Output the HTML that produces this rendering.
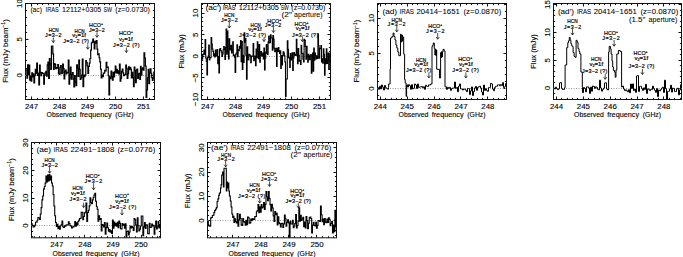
<!DOCTYPE html>
<html><head><meta charset="utf-8"><style>
html,body{margin:0;padding:0;background:#fff;}
svg{display:block;}
text{font-family:"Liberation Sans",sans-serif;fill:#000;stroke:#000;stroke-width:0.12px;}
text.t{stroke-width:0.05px;}
text.l{stroke-width:0.2px;}
</style></head><body>
<svg width="683" height="257" viewBox="0 0 683 257">
<rect x="25.5" y="3.5" width="129" height="96" fill="none" stroke="#111" stroke-width="1"/>
<text x="31.5" y="108.8" font-size="7.9" text-anchor="middle">247</text>
<text x="59.5" y="108.8" font-size="7.9" text-anchor="middle">248</text>
<text x="87.5" y="108.8" font-size="7.9" text-anchor="middle">249</text>
<text x="115.5" y="108.8" font-size="7.9" text-anchor="middle">250</text>
<text x="143.5" y="108.8" font-size="7.9" text-anchor="middle">251</text>
<text x="21.6" y="75.2" font-size="7.9" text-anchor="middle" transform="rotate(-90 21.6 75.2)" dominant-baseline="auto">0</text>
<text x="21.6" y="39.35" font-size="7.9" text-anchor="middle" transform="rotate(-90 21.6 39.35)" dominant-baseline="auto">5</text>
<text x="21.6" y="3.5" font-size="7.9" text-anchor="middle" transform="rotate(-90 21.6 3.5)" dominant-baseline="auto">10</text>
<path d="M25.5 99.5v-1.6M25.5 3.5v1.6M31.5 99.5v-3M31.5 3.5v3M37.5 99.5v-1.6M37.5 3.5v1.6M42.5 99.5v-1.6M42.5 3.5v1.6M48.5 99.5v-1.6M48.5 3.5v1.6M53.5 99.5v-1.6M53.5 3.5v1.6M59.5 99.5v-3M59.5 3.5v3M65.5 99.5v-1.6M65.5 3.5v1.6M70.5 99.5v-1.6M70.5 3.5v1.6M76.5 99.5v-1.6M76.5 3.5v1.6M81.5 99.5v-1.6M81.5 3.5v1.6M87.5 99.5v-3M87.5 3.5v3M93.5 99.5v-1.6M93.5 3.5v1.6M98.5 99.5v-1.6M98.5 3.5v1.6M104.5 99.5v-1.6M104.5 3.5v1.6M109.5 99.5v-1.6M109.5 3.5v1.6M115.5 99.5v-3M115.5 3.5v3M121.5 99.5v-1.6M121.5 3.5v1.6M126.5 99.5v-1.6M126.5 3.5v1.6M132.5 99.5v-1.6M132.5 3.5v1.6M137.5 99.5v-1.6M137.5 3.5v1.6M143.5 99.5v-3M143.5 3.5v3M149.5 99.5v-1.6M149.5 3.5v1.6M25.5 96.5h1.6M154.5 96.5h-1.6M25.5 89.5h1.6M154.5 89.5h-1.6M25.5 82.5h1.6M154.5 82.5h-1.6M25.5 75.5h3M154.5 75.5h-3M25.5 68.5h1.6M154.5 68.5h-1.6M25.5 60.5h1.6M154.5 60.5h-1.6M25.5 53.5h1.6M154.5 53.5h-1.6M25.5 46.5h1.6M154.5 46.5h-1.6M25.5 39.5h3M154.5 39.5h-3M25.5 32.5h1.6M154.5 32.5h-1.6M25.5 25.5h1.6M154.5 25.5h-1.6M25.5 17.5h1.6M154.5 17.5h-1.6M25.5 10.5h1.6M154.5 10.5h-1.6" stroke="#111" stroke-width="1" fill="none"/>
<path d="M25.5 75.5H154.5" stroke="#999" stroke-width="1" stroke-dasharray="1 1.5" fill="none"/>
<text x="46.6" y="116.8" font-size="6.9" text-anchor="start" textLength="29.7" lengthAdjust="spacingAndGlyphs">Observed</text>
<text x="79.7" y="116.8" font-size="6.9" text-anchor="start" textLength="31.9" lengthAdjust="spacingAndGlyphs">frequency</text>
<text x="115.3" y="116.8" font-size="6.9" text-anchor="start" textLength="18.2" lengthAdjust="spacingAndGlyphs">(GHz)</text>
<text x="7.8" y="51" font-size="7.3" text-anchor="middle" textLength="63.5" lengthAdjust="spacingAndGlyphs" transform="rotate(-90 7.8 51)">Flux (mJy beam<tspan dy="-2.6" font-size="4.8">−1</tspan><tspan dy="2.6">)</tspan></text>
<text x="30.4" y="11.7" font-size="6.5" text-anchor="start" textLength="11.5" lengthAdjust="spacingAndGlyphs" class="t">(ac)</text>
<text x="45.6" y="11.7" font-size="6.5" text-anchor="start" textLength="13.2" lengthAdjust="spacingAndGlyphs" class="t">IRAS</text>
<text x="62.1" y="11.7" font-size="6.5" text-anchor="start" textLength="39.2" lengthAdjust="spacingAndGlyphs" class="t">12112+0305</text>
<text x="103.4" y="11.7" font-size="6.5" text-anchor="start" textLength="8.5" lengthAdjust="spacingAndGlyphs" class="t">SW</text>
<text x="115.3" y="11.7" font-size="6.5" text-anchor="start" textLength="34.5" lengthAdjust="spacingAndGlyphs" class="t">(z=0.0730)</text>
<path d="M25.5 69.89H26.2V70.02H26.9V78.19H27.6V64.85H28.3V74.52H29.01V65H29.71V80.1H30.41V76.06H31.11V81.24H31.81V72.86H32.51V76.91H33.21V73.83H33.91V83H34.61V75.75H35.32V69.44H36.02V73.49H36.72V63H37.42V75.33H38.12V73.22H38.82V84.91H39.52V65H40.22V72.4H40.92V75.76H41.63V72.68H42.33V73.29H43.03V73.44H43.73V84.12H44.43V75.1H45.13V72.95H45.83V71.28H46.53V76.08H47.23V64.88H47.93V62H48.64V78.37H49.34V58.7H50.04V64.16H50.74V69.33H51.44V46H52.14V46H52.84V53.89H53.54V69.44H54.24V63.62H54.95V64.39H55.65V68.73H56.35V67.65H57.05V68.08H57.75V64.57H58.45V73.28H59.15V74.45H59.85V67.42H60.55V65.56H61.26V73.56H61.96V72.99H62.66V64H63.36V68.65H64.06V78.89H64.76V71.56H65.46V70.16H66.16V73.8H66.86V72.32H67.57V72.64H68.27V60.22H68.97V84.26H69.67V74.29H70.37V67.16H71.07V79.08H71.77V74.58H72.47V72.55H73.17V79.11H73.87V86.85H74.58V75.61H75.28V82.18H75.98V85.76H76.68V64.96H77.38V68.05H78.08V76.36H78.78V60.07H79.48V69.3H80.18V79.48H80.89V77.96H81.59V75.04H82.29V59.06H82.99V86.76H83.69V75.16H84.39V76.66H85.09V74.99H85.79V60.72H86.49V62.65H87.2V65.99H87.9V73.34H88.6V66.44H89.3V63.19H90V58.49H90.7V50.18H91.4V42.83H92.1V42.04H92.8V38.98H93.51V42.22H94.21V48.83H94.91V41.24H95.61V43.16H96.31V40.49H97.01V49.08H97.71V54.63H98.41V53.82H99.11V57.77H99.82V61.92H100.52V69.05H101.22V78.02H101.92V75.06H102.62V76.6H103.32V73.02H104.02V73.21H104.72V70.32H105.42V71.02H106.12V62.45H106.83V67.39H107.53V67.07H108.23V75.6H108.93V94.9H109.63V76.87H110.33V78.55H111.03V71.13H111.73V76.6H112.43V80.23H113.14V72.4H113.84V76.81H114.54V71.83H115.24V66.06H115.94V73.02H116.64V69.28H117.34V73.03H118.04V70.77H118.74V73.92H119.45V64.12H120.15V81.03H120.85V78.16H121.55V71.35H122.25V69.14H122.95V72.82H123.65V75.53H124.35V74.55H125.05V74.49H125.76V65.03H126.46V68.41H127.16V78.34H127.86V73.95H128.56V66.93H129.26V69.57H129.96V67.28H130.66V69.01H131.36V77.85H132.07V72.26H132.77V77.7H133.47V86.7H134.17V67.14H134.87V70.63H135.57V82.57H136.27V70.2H136.97V69.07H137.67V78.38H138.38V73.75H139.08V73.39H139.78V79.41H140.48V66.3H141.18V75.19H141.88V69.22H142.58V67.83H143.28V70.25H143.98V52.8H144.68V58H145.39V66.16H146.09V97.3H146.79V90H147.49V77.91H148.19V69.3H148.89V83.69H149.59V72.31H150.29V68.96H150.99V73.3H151.7V77.72H152.4V80.5H153.1V78.15H153.8V72.22H154.5" stroke="#000" stroke-width="1.2" fill="none" stroke-linejoin="miter"/>
<text x="53.7" y="31.7" font-size="5.4" text-anchor="middle" textLength="10.1" lengthAdjust="spacingAndGlyphs" class="l">HCN</text>
<text x="53.3" y="37" font-size="5.4" text-anchor="middle" textLength="16.4" lengthAdjust="spacing" class="l">J=3−2</text>
<path d="M53.3 37.5V42.5M51.7 40.3L53.3 42.5L54.9 40.3" stroke="#000" stroke-width="0.7" fill="none"/>
<text x="79.6" y="32.5" font-size="5.4" text-anchor="middle" textLength="10" lengthAdjust="spacingAndGlyphs" class="l">HCN</text>
<text x="79.1" y="37.2" font-size="5.4" text-anchor="middle" textLength="13.6" lengthAdjust="spacingAndGlyphs" class="l">v<tspan font-size='3.4' dy='1.2'>2</tspan><tspan dy='-1.2'>=1f</tspan></text>
<text x="63.3" y="43.3" font-size="5.4" text-anchor="start" textLength="25.6" lengthAdjust="spacing" class="l">J=3−2 (?)</text>
<path d="M87.8 44.3V49.2M86.2 47L87.8 49.2L89.4 47" stroke="#000" stroke-width="0.7" fill="none"/>
<text x="96" y="27.3" font-size="5.4" text-anchor="middle" class="l">HCO<tspan font-size='3.4' dy='-2.1'>+</tspan></text>
<text x="96.8" y="32" font-size="5.4" text-anchor="middle" textLength="15.8" lengthAdjust="spacing" class="l">J=3−2</text>
<path d="M97 32.3V37.3M95.4 35.1L97 37.3L98.6 35.1" stroke="#000" stroke-width="0.7" fill="none"/>
<text x="125.9" y="35.4" font-size="5.4" text-anchor="middle" class="l">HCO<tspan font-size='3.4' dy='-2.1'>+</tspan></text>
<text x="125.9" y="41" font-size="5.4" text-anchor="middle" textLength="13.6" lengthAdjust="spacingAndGlyphs" class="l">v<tspan font-size='3.4' dy='1.2'>2</tspan><tspan dy='-1.2'>=1f</tspan></text>
<text x="113" y="47.1" font-size="5.4" text-anchor="start" textLength="26.6" lengthAdjust="spacing" class="l">J=3−2 (?)</text>
<path d="M126.4 47.5V52.5M124.8 50.3L126.4 52.5L128 50.3" stroke="#000" stroke-width="0.7" fill="none"/>
<rect x="201.5" y="3.5" width="129" height="96" fill="none" stroke="#111" stroke-width="1"/>
<text x="207.5" y="108.8" font-size="7.9" text-anchor="middle">247</text>
<text x="235.5" y="108.8" font-size="7.9" text-anchor="middle">248</text>
<text x="263.5" y="108.8" font-size="7.9" text-anchor="middle">249</text>
<text x="291.5" y="108.8" font-size="7.9" text-anchor="middle">250</text>
<text x="319.5" y="108.8" font-size="7.9" text-anchor="middle">251</text>
<text x="197.6" y="99.5" font-size="7.9" text-anchor="middle" transform="rotate(-90 197.6 99.5)" dominant-baseline="auto">−10</text>
<text x="197.6" y="77.9" font-size="7.9" text-anchor="middle" transform="rotate(-90 197.6 77.9)" dominant-baseline="auto">−5</text>
<text x="197.6" y="56.3" font-size="7.9" text-anchor="middle" transform="rotate(-90 197.6 56.3)" dominant-baseline="auto">0</text>
<text x="197.6" y="34.7" font-size="7.9" text-anchor="middle" transform="rotate(-90 197.6 34.7)" dominant-baseline="auto">5</text>
<text x="197.6" y="13.1" font-size="7.9" text-anchor="middle" transform="rotate(-90 197.6 13.1)" dominant-baseline="auto">10</text>
<path d="M201.5 99.5v-1.6M201.5 3.5v1.6M207.5 99.5v-3M207.5 3.5v3M213.5 99.5v-1.6M213.5 3.5v1.6M218.5 99.5v-1.6M218.5 3.5v1.6M224.5 99.5v-1.6M224.5 3.5v1.6M229.5 99.5v-1.6M229.5 3.5v1.6M235.5 99.5v-3M235.5 3.5v3M241.5 99.5v-1.6M241.5 3.5v1.6M246.5 99.5v-1.6M246.5 3.5v1.6M252.5 99.5v-1.6M252.5 3.5v1.6M257.5 99.5v-1.6M257.5 3.5v1.6M263.5 99.5v-3M263.5 3.5v3M269.5 99.5v-1.6M269.5 3.5v1.6M274.5 99.5v-1.6M274.5 3.5v1.6M280.5 99.5v-1.6M280.5 3.5v1.6M285.5 99.5v-1.6M285.5 3.5v1.6M291.5 99.5v-3M291.5 3.5v3M297.5 99.5v-1.6M297.5 3.5v1.6M302.5 99.5v-1.6M302.5 3.5v1.6M308.5 99.5v-1.6M308.5 3.5v1.6M313.5 99.5v-1.6M313.5 3.5v1.6M319.5 99.5v-3M319.5 3.5v3M325.5 99.5v-1.6M325.5 3.5v1.6M201.5 95.5h1.6M330.5 95.5h-1.6M201.5 90.5h1.6M330.5 90.5h-1.6M201.5 86.5h1.6M330.5 86.5h-1.6M201.5 82.5h1.6M330.5 82.5h-1.6M201.5 77.5h3M330.5 77.5h-3M201.5 73.5h1.6M330.5 73.5h-1.6M201.5 69.5h1.6M330.5 69.5h-1.6M201.5 64.5h1.6M330.5 64.5h-1.6M201.5 60.5h1.6M330.5 60.5h-1.6M201.5 56.5h3M330.5 56.5h-3M201.5 51.5h1.6M330.5 51.5h-1.6M201.5 47.5h1.6M330.5 47.5h-1.6M201.5 43.5h1.6M330.5 43.5h-1.6M201.5 39.5h1.6M330.5 39.5h-1.6M201.5 34.5h3M330.5 34.5h-3M201.5 30.5h1.6M330.5 30.5h-1.6M201.5 26.5h1.6M330.5 26.5h-1.6M201.5 21.5h1.6M330.5 21.5h-1.6M201.5 17.5h1.6M330.5 17.5h-1.6M201.5 13.5h3M330.5 13.5h-3M201.5 8.5h1.6M330.5 8.5h-1.6M201.5 4.5h1.6M330.5 4.5h-1.6" stroke="#111" stroke-width="1" fill="none"/>
<path d="M201.5 56.5H330.5" stroke="#999" stroke-width="1" stroke-dasharray="1 1.5" fill="none"/>
<text x="222.6" y="116.8" font-size="6.9" text-anchor="start" textLength="29.7" lengthAdjust="spacingAndGlyphs">Observed</text>
<text x="255.7" y="116.8" font-size="6.9" text-anchor="start" textLength="31.9" lengthAdjust="spacingAndGlyphs">frequency</text>
<text x="291.3" y="116.8" font-size="6.9" text-anchor="start" textLength="18.2" lengthAdjust="spacingAndGlyphs">(GHz)</text>
<text x="183.6" y="51.4" font-size="7.3" text-anchor="middle" textLength="34.3" lengthAdjust="spacingAndGlyphs" transform="rotate(-90 183.6 51.4)">Flux (mJy)</text>
<text x="205.5" y="10.4" font-size="6.5" text-anchor="start" textLength="15.8" lengthAdjust="spacingAndGlyphs" class="t">(ac')</text>
<text x="222.7" y="10.4" font-size="6.5" text-anchor="start" textLength="12.6" lengthAdjust="spacingAndGlyphs" class="t">IRAS</text>
<text x="238.7" y="10.4" font-size="6.5" text-anchor="start" textLength="40.1" lengthAdjust="spacingAndGlyphs" class="t">12112+0305</text>
<text x="280.7" y="10.4" font-size="6.5" text-anchor="start" textLength="8.1" lengthAdjust="spacingAndGlyphs" class="t">SW</text>
<text x="291.3" y="10.4" font-size="6.5" text-anchor="start" textLength="34" lengthAdjust="spacingAndGlyphs" class="t">(z=0.0730)</text>
<text x="281.5" y="16.8" font-size="6.5" text-anchor="start" textLength="10.5" lengthAdjust="spacingAndGlyphs" class="t">(2"</text>
<text x="294.1" y="16.8" font-size="6.5" text-anchor="start" textLength="28.4" lengthAdjust="spacingAndGlyphs" class="t">aperture)</text>
<path d="M201.5 54.63H202.1V59.13H202.7V54.6H203.3V53.96H203.9V50.17H204.5V54.37H205.1V39.6H205.7V57.98H206.3V61.56H206.9V75H207.5V57.5H208.1V56.14H208.7V44.93H209.3V59.95H209.9V57.76H210.5V57.61H211.1V37.6H211.7V43.94H212.3V48.97H212.9V51.39H213.5V55.93H214.1V53.72H214.7V57.02H215.3V49.94H215.9V55.54H216.5V55.95H217.1V49.51H217.7V63.68H218.3V56.61H218.9V73H219.5V49.34H220.1V48.53H220.7V50.8H221.3V52.12H221.9V56.45H222.5V54.04H223.1V49.76H223.7V46.6H224.3V49.12H224.9V59.46H225.5V47.19H226.1V29H226.7V54.23H227.3V31H227.9V51.56H228.5V58.9H229.1V38.78H229.7V48.74H230.3V49.83H230.9V45.36H231.5V53.05H232.1V49.83H232.7V41.71H233.3V55.77H233.9V55.12H234.5V57.08H235.1V72.4H235.7V54.17H236.3V53.02H236.9V44.8H237.5V56.59H238.1V49.53H238.7V50.78H239.3V46.21H239.9V48.18H240.5V40.6H241.1V61.63H241.7V41.66H242.3V69.5H242.9V55.19H243.5V62.37H244.1V32.8H244.7V42.22H245.3V38.46H245.9V55.67H246.5V79.2H247.1V46.71H247.7V59.25H248.3V59.95H248.9V54.24H249.5V54.72H250.1V55.81H250.7V62.72H251.3V56.82H251.9V56.17H252.5V56.3H253.1V43.56H253.7V60.61H254.3V58.61H254.9V56.01H255.5V65.6H256.1V48.94H256.7V57.75H257.3V41.78H257.9V51.5H258.5V58.67H259.1V44.64H259.7V62.12H260.3V55.73H260.9V51.47H261.5V54.27H262.1V56.18H262.7V52.95H263.3V59.06H263.9V48.17H264.5V70H265.1V58.3H265.7V52.16H266.3V44.62H266.9V53.48H267.5V54.49H268.1V42.03H268.7V35.97H269.3V42.99H269.9V42.46H270.5V34.7H271.1V38H271.7V38H272.3V50.16H272.9V35.59H273.5V39.08H274.1V48.19H274.7V51.77H275.3V50.75H275.9V48.27H276.5V66.5H277.1V48.31H277.7V51.45H278.3V47.65H278.9V51.09H279.5V53.57H280.1V50.85H280.7V68.4H281.3V55.66H281.9V65.04H282.5V55.64H283.1V51.84H283.7V52.88H284.3V55.75H284.9V61.83H285.5V96.6H286.1V79H286.7V79H287.3V40.78H287.9V49.39H288.5V57.57H289.1V58.47H289.7V67.5H290.3V53.43H290.9V59.91H291.5V57.65H292.1V52.79H292.7V70.47H293.3V57.99H293.9V52.5H294.5V55.2H295.1V54.41H295.7V55.36H296.3V39.34H296.9V52.76H297.5V63.6H298.1V48.6H298.7V55.18H299.3V61.27H299.9V60.66H300.5V64.44H301.1V45.25H301.7V53.31H302.3V53.35H302.9V59.11H303.5V61.89H304.1V39.21H304.7V40.5H305.3V46.56H305.9V59.32H306.5V46.23H307.1V56.21H307.7V62.29H308.3V54.2H308.9V56.21H309.5V59.82H310.1V55.85H310.7V54.44H311.3V73.3H311.9V61.2H312.5V53.12H313.1V71.32H313.7V47.94H314.3V60.27H314.9V53.16H315.5V55.52H316.1V58.93H316.7V56H317.3V58.47H317.9V33.7H318.5V45.52H319.1V58.23H319.7V48.73H320.3V48.32H320.9V45.63H321.5V62.02H322.1V58.87H322.7V63.2H323.3V48.7H323.9V54.3H324.5V75.2H325.1V58.83H325.7V63.74H326.3V48.83H326.9V63.51H327.5V60.04H328.1V53.01H328.7V69.4H329.3V62.46H329.9V53.42H330.5" stroke="#000" stroke-width="1.1" fill="none" stroke-linejoin="miter"/>
<text x="229.3" y="16.9" font-size="5.4" text-anchor="middle" textLength="10.1" lengthAdjust="spacingAndGlyphs" class="l">HCN</text>
<text x="229.3" y="21.8" font-size="5.4" text-anchor="middle" textLength="16.7" lengthAdjust="spacing" class="l">J=3−2</text>
<path d="M229.3 22V28M227.7 25.8L229.3 28L230.9 25.8" stroke="#000" stroke-width="0.7" fill="none"/>
<text x="255.6" y="27.1" font-size="5.4" text-anchor="middle" textLength="10" lengthAdjust="spacingAndGlyphs" class="l">HCN</text>
<text x="255" y="30.9" font-size="5.4" text-anchor="middle" textLength="13.6" lengthAdjust="spacingAndGlyphs" class="l">v<tspan font-size='3.4' dy='1.2'>2</tspan><tspan dy='-1.2'>=1f</tspan></text>
<text x="239" y="36.9" font-size="5.4" text-anchor="start" textLength="27" lengthAdjust="spacing" class="l">J=3−2 (?)</text>
<path d="M264 37.3V41.5M262.4 39.3L264 41.5L265.6 39.3" stroke="#000" stroke-width="0.7" fill="none"/>
<text x="274.3" y="22.6" font-size="5.4" text-anchor="middle" class="l">HCO<tspan font-size='3.4' dy='-2.1'>+</tspan></text>
<text x="273" y="26.6" font-size="5.4" text-anchor="middle" textLength="16.7" lengthAdjust="spacing" class="l">J=3−2</text>
<path d="M273.4 27V32.5M271.8 30.3L273.4 32.5L275 30.3" stroke="#000" stroke-width="0.7" fill="none"/>
<text x="301.5" y="25.6" font-size="5.4" text-anchor="middle" class="l">HCO<tspan font-size='3.4' dy='-2.1'>+</tspan></text>
<text x="302.6" y="30.2" font-size="5.4" text-anchor="middle" textLength="13.6" lengthAdjust="spacingAndGlyphs" class="l">v<tspan font-size='3.4' dy='1.2'>2</tspan><tspan dy='-1.2'>=1f</tspan></text>
<text x="292.1" y="36.6" font-size="5.4" text-anchor="start" textLength="26.2" lengthAdjust="spacing" class="l">J=3−2 (?)</text>
<path d="M302.4 36.5V41.6M300.8 39.4L302.4 41.6L304 39.4" stroke="#000" stroke-width="0.7" fill="none"/>
<rect x="377.5" y="3.5" width="129" height="96" fill="none" stroke="#111" stroke-width="1"/>
<text x="380.3" y="108.8" font-size="7.9" text-anchor="middle">244</text>
<text x="407.2" y="108.8" font-size="7.9" text-anchor="middle">245</text>
<text x="434.1" y="108.8" font-size="7.9" text-anchor="middle">246</text>
<text x="461" y="108.8" font-size="7.9" text-anchor="middle">247</text>
<text x="487.9" y="108.8" font-size="7.9" text-anchor="middle">248</text>
<text x="373.6" y="88.6" font-size="7.9" text-anchor="middle" transform="rotate(-90 373.6 88.6)" dominant-baseline="auto">0</text>
<text x="373.6" y="53.4" font-size="7.9" text-anchor="middle" transform="rotate(-90 373.6 53.4)" dominant-baseline="auto">5</text>
<text x="373.6" y="18.2" font-size="7.9" text-anchor="middle" transform="rotate(-90 373.6 18.2)" dominant-baseline="auto">10</text>
<path d="M380.5 99.5v-3M380.5 3.5v3M385.5 99.5v-1.6M385.5 3.5v1.6M391.5 99.5v-1.6M391.5 3.5v1.6M396.5 99.5v-1.6M396.5 3.5v1.6M401.5 99.5v-1.6M401.5 3.5v1.6M407.5 99.5v-3M407.5 3.5v3M412.5 99.5v-1.6M412.5 3.5v1.6M417.5 99.5v-1.6M417.5 3.5v1.6M423.5 99.5v-1.6M423.5 3.5v1.6M428.5 99.5v-1.6M428.5 3.5v1.6M434.5 99.5v-3M434.5 3.5v3M439.5 99.5v-1.6M439.5 3.5v1.6M444.5 99.5v-1.6M444.5 3.5v1.6M450.5 99.5v-1.6M450.5 3.5v1.6M455.5 99.5v-1.6M455.5 3.5v1.6M460.5 99.5v-3M460.5 3.5v3M466.5 99.5v-1.6M466.5 3.5v1.6M471.5 99.5v-1.6M471.5 3.5v1.6M477.5 99.5v-1.6M477.5 3.5v1.6M482.5 99.5v-1.6M482.5 3.5v1.6M487.5 99.5v-3M487.5 3.5v3M493.5 99.5v-1.6M493.5 3.5v1.6M498.5 99.5v-1.6M498.5 3.5v1.6M504.5 99.5v-1.6M504.5 3.5v1.6M377.5 95.5h1.6M506.5 95.5h-1.6M377.5 88.5h3M506.5 88.5h-3M377.5 81.5h1.6M506.5 81.5h-1.6M377.5 74.5h1.6M506.5 74.5h-1.6M377.5 67.5h1.6M506.5 67.5h-1.6M377.5 60.5h1.6M506.5 60.5h-1.6M377.5 53.5h3M506.5 53.5h-3M377.5 46.5h1.6M506.5 46.5h-1.6M377.5 39.5h1.6M506.5 39.5h-1.6M377.5 32.5h1.6M506.5 32.5h-1.6M377.5 25.5h1.6M506.5 25.5h-1.6M377.5 18.5h3M506.5 18.5h-3M377.5 11.5h1.6M506.5 11.5h-1.6M377.5 4.5h1.6M506.5 4.5h-1.6" stroke="#111" stroke-width="1" fill="none"/>
<path d="M377.5 88.5H506.5" stroke="#999" stroke-width="1" stroke-dasharray="1 1.5" fill="none"/>
<text x="398.6" y="116.8" font-size="6.9" text-anchor="start" textLength="29.7" lengthAdjust="spacingAndGlyphs">Observed</text>
<text x="431.7" y="116.8" font-size="6.9" text-anchor="start" textLength="31.9" lengthAdjust="spacingAndGlyphs">frequency</text>
<text x="467.3" y="116.8" font-size="6.9" text-anchor="start" textLength="18.2" lengthAdjust="spacingAndGlyphs">(GHz)</text>
<text x="359.3" y="51" font-size="7.3" text-anchor="middle" textLength="62.8" lengthAdjust="spacingAndGlyphs" transform="rotate(-90 359.3 51)">Flux (mJy beam<tspan dy="-2.6" font-size="4.8">−1</tspan><tspan dy="2.6">)</tspan></text>
<text x="382.4" y="13.5" font-size="6.7" text-anchor="start" textLength="14.7" lengthAdjust="spacingAndGlyphs" class="t">(ad)</text>
<text x="399.5" y="13.5" font-size="6.7" text-anchor="start" textLength="14.4" lengthAdjust="spacingAndGlyphs" class="t">IRAS</text>
<text x="416.5" y="13.5" font-size="6.7" text-anchor="start" textLength="43.3" lengthAdjust="spacingAndGlyphs" class="t">20414−1651</text>
<text x="463.5" y="13.5" font-size="6.7" text-anchor="start" textLength="37.8" lengthAdjust="spacingAndGlyphs" class="t">(z=0.0870)</text>
<path d="M377.5 87.64H378.5V89.26H379.5V86.21H380.5V88.91H381.5V85H382.5V87.17H383.5V90H384.5V85.5H385.5V87.5H386.5V88.59H387.5V89.15H388.5V87.54H388.6V84H390.1V69H390.5V38H391.8V36.7H393.1V33H394V36.5H395V40H395.9V45H396.8V48H397.8V52H398.8V55.7H400.5V34.2H401.2V42H401.8V35H402.4V41H402.9V37H403.7V54.2H404.6V79.5H405.2V83H406.1V96.4H406.6V85H407.4V84.88H407.5V87.01H408.5V84.64H409.5V85.74H410.5V89.27H411.5V84.66H412.5V88.86H413.5V88.21H414.5V84H415.5V85H416.5V88.51H417.5V84H418.5V87.46H419.5V86.96H420.5V86.95H421.5V86.43H422.5V87.75H423.5V86.72H424.5V89.32H425.5V85.22H426.5V86.31H427.5V86.51H428.5V84.93H429.5V85H430.5V84H432V46.3H432.8V45H433.3V43H434.3V48.7H434.9V55H435.4V49H435.9V55.5H436.3V50H436.7V69.3H439.5V78H440.6V52.6H441.1V57.5H441.6V51.6H442.1V57H442.5V52H443V49.4H444.2V51H445V86.8H446.5V89.31H447.5V87.31H448.5V88.42H449.5V87.35H450.5V90.41H451.5V88.49H452.5V88H453.5V88.08H454.5V82H455.5V88.35H456.5V87.47H457.5V91.68H458.5V86.22H459.5V83.95H460.5V88.91H461.5V88.96H462.5V89.96H463.5V89.02H464.5V89.2H465.5V90.2H466.5V91.67H467.5V88.44H468.5V88.58H469.5V94.55H470.5V90.88H471.5V86.94H472.5V95.54H473.5V91.52H474.5V87.97H475.5V86.45H476.5V90.28H477.5V87.34H478.5V86.75H479.5V86.13H480.5V88.02H481.5V92.05H482.5V95H483.5V85.06H484.5V90.41H485.5V88.67H486.5V90.53H487.5V91.29H488.5V87.56H489.5V87.46H490.5V83.3H491.5V84H492.5V89.07H493.5V90.73H494.5V87.45H495.5V86.34H496.5V86.24H497.5V84.85H498.5V84.75H499.5V85.76H500.5V84.57H501.5V85.58H502.5V82.58H503.5V87.55H504.5V86.73H505.5V83.56H506.5" stroke="#000" stroke-width="1" fill="none" stroke-linejoin="miter"/>
<text x="396.8" y="21.6" font-size="5.4" text-anchor="middle" textLength="10.4" lengthAdjust="spacingAndGlyphs" class="l">HCN</text>
<text x="396.5" y="25.9" font-size="5.4" text-anchor="middle" textLength="18.2" lengthAdjust="spacing" class="l">J=3−2</text>
<path d="M396.8 26V31.9M395.2 29.7L396.8 31.9L398.4 29.7" stroke="#000" stroke-width="0.7" fill="none"/>
<text x="435.3" y="28.2" font-size="5.4" text-anchor="middle" class="l">HCO<tspan font-size='3.4' dy='-2.1'>+</tspan></text>
<text x="435.3" y="32.9" font-size="5.4" text-anchor="middle" textLength="18.4" lengthAdjust="spacing" class="l">J=3−2</text>
<path d="M437.7 33V39.2M436.1 37L437.7 39.2L439.3 37" stroke="#000" stroke-width="0.7" fill="none"/>
<text x="421.1" y="61.6" font-size="5.4" text-anchor="middle" textLength="10.4" lengthAdjust="spacingAndGlyphs" class="l">HCN</text>
<text x="421.1" y="65.5" font-size="5.4" text-anchor="middle" textLength="13.8" lengthAdjust="spacingAndGlyphs" class="l">v<tspan font-size='3.4' dy='1.2'>2</tspan><tspan dy='-1.2'>=1f</tspan></text>
<text x="406.1" y="72" font-size="5.4" text-anchor="start" textLength="25.2" lengthAdjust="spacing" class="l">J=3−2 (?)</text>
<path d="M428.9 72.5V77.9M427.3 75.7L428.9 77.9L430.5 75.7" stroke="#000" stroke-width="0.7" fill="none"/>
<text x="465.2" y="61.2" font-size="5.4" text-anchor="middle" class="l">HCO<tspan font-size='3.4' dy='-2.1'>+</tspan></text>
<text x="465.9" y="65.5" font-size="5.4" text-anchor="middle" textLength="13.8" lengthAdjust="spacingAndGlyphs" class="l">v<tspan font-size='3.4' dy='1.2'>2</tspan><tspan dy='-1.2'>=1f</tspan></text>
<text x="452.3" y="72" font-size="5.4" text-anchor="start" textLength="26.5" lengthAdjust="spacing" class="l">J=3−2 (?)</text>
<path d="M465.9 72.5V77.9M464.3 75.7L465.9 77.9L467.5 75.7" stroke="#000" stroke-width="0.7" fill="none"/>
<rect x="553.5" y="3.5" width="128" height="96" fill="none" stroke="#111" stroke-width="1"/>
<text x="556.5" y="108.8" font-size="7.9" text-anchor="middle">244</text>
<text x="583.35" y="108.8" font-size="7.9" text-anchor="middle">245</text>
<text x="610.2" y="108.8" font-size="7.9" text-anchor="middle">246</text>
<text x="637.05" y="108.8" font-size="7.9" text-anchor="middle">247</text>
<text x="663.9" y="108.8" font-size="7.9" text-anchor="middle">248</text>
<text x="549.6" y="88" font-size="7.9" text-anchor="middle" transform="rotate(-90 549.6 88)" dominant-baseline="auto">0</text>
<text x="549.6" y="60.2" font-size="7.9" text-anchor="middle" transform="rotate(-90 549.6 60.2)" dominant-baseline="auto">5</text>
<text x="549.6" y="32.4" font-size="7.9" text-anchor="middle" transform="rotate(-90 549.6 32.4)" dominant-baseline="auto">10</text>
<text x="549.6" y="4.6" font-size="7.9" text-anchor="middle" transform="rotate(-90 549.6 4.6)" dominant-baseline="auto">15</text>
<path d="M556.5 99.5v-3M556.5 3.5v3M561.5 99.5v-1.6M561.5 3.5v1.6M567.5 99.5v-1.6M567.5 3.5v1.6M572.5 99.5v-1.6M572.5 3.5v1.6M577.5 99.5v-1.6M577.5 3.5v1.6M583.5 99.5v-3M583.5 3.5v3M588.5 99.5v-1.6M588.5 3.5v1.6M594.5 99.5v-1.6M594.5 3.5v1.6M599.5 99.5v-1.6M599.5 3.5v1.6M604.5 99.5v-1.6M604.5 3.5v1.6M610.5 99.5v-3M610.5 3.5v3M615.5 99.5v-1.6M615.5 3.5v1.6M620.5 99.5v-1.6M620.5 3.5v1.6M626.5 99.5v-1.6M626.5 3.5v1.6M631.5 99.5v-1.6M631.5 3.5v1.6M637.5 99.5v-3M637.5 3.5v3M642.5 99.5v-1.6M642.5 3.5v1.6M647.5 99.5v-1.6M647.5 3.5v1.6M653.5 99.5v-1.6M653.5 3.5v1.6M658.5 99.5v-1.6M658.5 3.5v1.6M663.5 99.5v-3M663.5 3.5v3M669.5 99.5v-1.6M669.5 3.5v1.6M674.5 99.5v-1.6M674.5 3.5v1.6M680.5 99.5v-1.6M680.5 3.5v1.6M553.5 93.5h1.6M681.5 93.5h-1.6M553.5 88.5h3M681.5 88.5h-3M553.5 82.5h1.6M681.5 82.5h-1.6M553.5 76.5h1.6M681.5 76.5h-1.6M553.5 71.5h1.6M681.5 71.5h-1.6M553.5 65.5h1.6M681.5 65.5h-1.6M553.5 60.5h3M681.5 60.5h-3M553.5 54.5h1.6M681.5 54.5h-1.6M553.5 49.5h1.6M681.5 49.5h-1.6M553.5 43.5h1.6M681.5 43.5h-1.6M553.5 37.5h1.6M681.5 37.5h-1.6M553.5 32.5h3M681.5 32.5h-3M553.5 26.5h1.6M681.5 26.5h-1.6M553.5 21.5h1.6M681.5 21.5h-1.6M553.5 15.5h1.6M681.5 15.5h-1.6M553.5 10.5h1.6M681.5 10.5h-1.6M553.5 4.5h3M681.5 4.5h-3" stroke="#111" stroke-width="1" fill="none"/>
<path d="M553.5 88.5H681.5" stroke="#999" stroke-width="1" stroke-dasharray="1 1.5" fill="none"/>
<text x="574.1" y="116.8" font-size="6.9" text-anchor="start" textLength="29.7" lengthAdjust="spacingAndGlyphs">Observed</text>
<text x="607.2" y="116.8" font-size="6.9" text-anchor="start" textLength="31.9" lengthAdjust="spacingAndGlyphs">frequency</text>
<text x="642.8" y="116.8" font-size="6.9" text-anchor="start" textLength="18.2" lengthAdjust="spacingAndGlyphs">(GHz)</text>
<text x="535.6" y="51.5" font-size="7.3" text-anchor="middle" textLength="34.3" lengthAdjust="spacingAndGlyphs" transform="rotate(-90 535.6 51.5)">Flux (mJy)</text>
<text x="557.9" y="13.5" font-size="6.7" text-anchor="start" textLength="16" lengthAdjust="spacingAndGlyphs" class="t">(ad')</text>
<text x="576.9" y="13.5" font-size="6.7" text-anchor="start" textLength="14.2" lengthAdjust="spacingAndGlyphs" class="t">IRAS</text>
<text x="593.7" y="13.5" font-size="6.7" text-anchor="start" textLength="43.1" lengthAdjust="spacingAndGlyphs" class="t">20414−1651</text>
<text x="640.5" y="13.5" font-size="6.7" text-anchor="start" textLength="37.8" lengthAdjust="spacingAndGlyphs" class="t">(z=0.0870)</text>
<text x="628.9" y="21.5" font-size="6.7" text-anchor="start" textLength="16.3" lengthAdjust="spacingAndGlyphs" class="t">(1.5"</text>
<text x="648.6" y="21.5" font-size="6.7" text-anchor="start" textLength="28.8" lengthAdjust="spacingAndGlyphs" class="t">aperture)</text>
<path d="M553.5 88.08H554.5V88.86H555.5V87.2H556.5V88.68H557.5V89.73H558.5V88.81H559.5V83H560.5V82.5H561.5V88.22H562.5V89.5H563.5V89.5H564.5V87.8H565.1V65H566.7V47.6H567.8V42.7H568.5V40.8H569.3V37.4H570.2V40.3H570.9V43.7H571.7V45.7H572.4V46.6H573.1V52.5H574.1V56.4H575.1V57.3H576.1V40.3H577.1V42.2H578V48.6H579V51.5H579.8V53.9H580.9V72H582.3V87.16H582.5V92.7H583.5V87.55H584.5V88.5H585.5V91.82H586.5V86.88H587.5V86.88H588.5V87.94H589.5V93.4H590.5V87.1H591.5V91.16H592.5V85.98H593.5V86.51H594.5V88.38H595.5V86.85H596.5V87.33H597.5V89.37H598.5V89.91H599.5V80.2H600.5V88.02H601.5V91.13H602.5V89.34H603.5V88.13H604.5V83H605.5V82.8H606.5V88.94H607.5V89.9H608.5V88.62H608.6V52H609.2V46.4H610.6V49H611.1V54.1H612V61H612.7V67H613.4V70.4H614.6V72H615.2V77.2H616V70H616.8V54H618.4V50.5H620.2V51.5H621.6V87H622.5V86.1H623.5V88.95H624.5V90.58H625.5V89.8H626.5V90.81H627.5V91.8H628.5V89.68H629.5V92.79H630.5V84H631.5V88.43H632.5V83.91H633.5V90.56H634.5V89.13H635.5V92.32H636.5V76H637.5V75.6H638.5V91.54H639.5V86.32H640.5V86.36H641.5V88.62H642.5V90.41H643.5V87.82H644.5V89.45H645.5V84.34H646.5V93.43H647.5V88.82H648.5V89.33H649.5V90.64H650.5V89.49H651.5V89.59H652.5V86.18H653.5V88.65H654.5V90.4H655.5V92.34H656.5V88.62H657.5V96.6H658.5V90.08H659.5V90.83H660.5V89.62H661.5V88.1H662.5V87.23H663.5V92.41H664.5V80.2H665.5V88.79H666.5V99H667.5V91.45H668.5V91.31H669.5V89.02H670.5V85.24H671.5V92.08H672.5V88.11H673.5V88.52H674.5V91.59H675.5V91.51H676.5V88.98H677.5V88.22H678.5V94.83H679.5V89.9H680.5V84.74H681.5" stroke="#000" stroke-width="1" fill="none" stroke-linejoin="miter"/>
<text x="572.5" y="23.3" font-size="5.4" text-anchor="middle" textLength="10.4" lengthAdjust="spacingAndGlyphs" class="l">HCN</text>
<text x="572.5" y="28.7" font-size="5.4" text-anchor="middle" textLength="17.5" lengthAdjust="spacing" class="l">J=3−2</text>
<path d="M572.5 29.1V35M570.9 32.8L572.5 35L574.1 32.8" stroke="#000" stroke-width="0.7" fill="none"/>
<text x="611" y="34.8" font-size="5.4" text-anchor="middle" class="l">HCO<tspan font-size='3.4' dy='-2.1'>+</tspan></text>
<text x="611" y="39.9" font-size="5.4" text-anchor="middle" textLength="17.5" lengthAdjust="spacing" class="l">J=3−2</text>
<path d="M614.1 39.9V46.2M612.5 44L614.1 46.2L615.7 44" stroke="#000" stroke-width="0.7" fill="none"/>
<text x="596.3" y="61.2" font-size="5.4" text-anchor="middle" textLength="10.4" lengthAdjust="spacingAndGlyphs" class="l">HCN</text>
<text x="596.3" y="65.5" font-size="5.4" text-anchor="middle" textLength="13.8" lengthAdjust="spacingAndGlyphs" class="l">v<tspan font-size='3.4' dy='1.2'>2</tspan><tspan dy='-1.2'>=1f</tspan></text>
<text x="582" y="72.9" font-size="5.4" text-anchor="start" textLength="25.2" lengthAdjust="spacing" class="l">J=3−2 (?)</text>
<path d="M605.2 73.8V79.3M603.6 77.1L605.2 79.3L606.8 77.1" stroke="#000" stroke-width="0.7" fill="none"/>
<text x="640.6" y="55" font-size="5.4" text-anchor="middle" class="l">HCO<tspan font-size='3.4' dy='-2.1'>+</tspan></text>
<text x="641.3" y="59.9" font-size="5.4" text-anchor="middle" textLength="13.8" lengthAdjust="spacingAndGlyphs" class="l">v<tspan font-size='3.4' dy='1.2'>2</tspan><tspan dy='-1.2'>=1f</tspan></text>
<text x="628.4" y="68.1" font-size="5.4" text-anchor="start" textLength="26" lengthAdjust="spacing" class="l">J=3−2 (?)</text>
<path d="M642.4 69V74.5M640.8 72.3L642.4 74.5L644 72.3" stroke="#000" stroke-width="0.7" fill="none"/>
<rect x="31.5" y="142.5" width="129" height="95.3" fill="none" stroke="#111" stroke-width="1"/>
<text x="56.8" y="247" font-size="7.9" text-anchor="middle">247</text>
<text x="84.9" y="247" font-size="7.9" text-anchor="middle">248</text>
<text x="113" y="247" font-size="7.9" text-anchor="middle">249</text>
<text x="141.1" y="247" font-size="7.9" text-anchor="middle">250</text>
<text x="27.6" y="225.6" font-size="7.9" text-anchor="middle" transform="rotate(-90 27.6 225.6)" dominant-baseline="auto">0</text>
<text x="27.6" y="198" font-size="7.9" text-anchor="middle" transform="rotate(-90 27.6 198)" dominant-baseline="auto">10</text>
<text x="27.6" y="170.4" font-size="7.9" text-anchor="middle" transform="rotate(-90 27.6 170.4)" dominant-baseline="auto">20</text>
<text x="27.6" y="142.8" font-size="7.9" text-anchor="middle" transform="rotate(-90 27.6 142.8)" dominant-baseline="auto">30</text>
<path d="M34.5 237.8v-1.6M34.5 142.5v1.6M39.5 237.8v-1.6M39.5 142.5v1.6M45.5 237.8v-1.6M45.5 142.5v1.6M51.5 237.8v-1.6M51.5 142.5v1.6M56.5 237.8v-3M56.5 142.5v3M62.5 237.8v-1.6M62.5 142.5v1.6M68.5 237.8v-1.6M68.5 142.5v1.6M73.5 237.8v-1.6M73.5 142.5v1.6M79.5 237.8v-1.6M79.5 142.5v1.6M84.5 237.8v-3M84.5 142.5v3M90.5 237.8v-1.6M90.5 142.5v1.6M96.5 237.8v-1.6M96.5 142.5v1.6M101.5 237.8v-1.6M101.5 142.5v1.6M107.5 237.8v-1.6M107.5 142.5v1.6M112.5 237.8v-3M112.5 142.5v3M118.5 237.8v-1.6M118.5 142.5v1.6M124.5 237.8v-1.6M124.5 142.5v1.6M129.5 237.8v-1.6M129.5 142.5v1.6M135.5 237.8v-1.6M135.5 142.5v1.6M141.5 237.8v-3M141.5 142.5v3M146.5 237.8v-1.6M146.5 142.5v1.6M152.5 237.8v-1.6M152.5 142.5v1.6M157.5 237.8v-1.6M157.5 142.5v1.6M31.5 236.5h1.6M160.5 236.5h-1.6M31.5 231.5h1.6M160.5 231.5h-1.6M31.5 225.5h3M160.5 225.5h-3M31.5 220.5h1.6M160.5 220.5h-1.6M31.5 214.5h1.6M160.5 214.5h-1.6M31.5 209.5h1.6M160.5 209.5h-1.6M31.5 203.5h1.6M160.5 203.5h-1.6M31.5 198.5h3M160.5 198.5h-3M31.5 192.5h1.6M160.5 192.5h-1.6M31.5 186.5h1.6M160.5 186.5h-1.6M31.5 181.5h1.6M160.5 181.5h-1.6M31.5 175.5h1.6M160.5 175.5h-1.6M31.5 170.5h3M160.5 170.5h-3M31.5 164.5h1.6M160.5 164.5h-1.6M31.5 159.5h1.6M160.5 159.5h-1.6M31.5 153.5h1.6M160.5 153.5h-1.6M31.5 148.5h1.6M160.5 148.5h-1.6" stroke="#111" stroke-width="1" fill="none"/>
<path d="M31.5 225.5H160.5" stroke="#999" stroke-width="1" stroke-dasharray="1 1.5" fill="none"/>
<text x="52.6" y="255.5" font-size="6.9" text-anchor="start" textLength="29.7" lengthAdjust="spacingAndGlyphs">Observed</text>
<text x="85.7" y="255.5" font-size="6.9" text-anchor="start" textLength="31.9" lengthAdjust="spacingAndGlyphs">frequency</text>
<text x="121.3" y="255.5" font-size="6.9" text-anchor="start" textLength="18.2" lengthAdjust="spacingAndGlyphs">(GHz)</text>
<text x="13.6" y="189.7" font-size="7.3" text-anchor="middle" textLength="62.8" lengthAdjust="spacingAndGlyphs" transform="rotate(-90 13.6 189.7)">Flux (mJy beam<tspan dy="-2.6" font-size="4.8">−1</tspan><tspan dy="2.6">)</tspan></text>
<text x="36.4" y="151.8" font-size="6.7" text-anchor="start" textLength="14.7" lengthAdjust="spacingAndGlyphs" class="t">(ae)</text>
<text x="53.5" y="151.8" font-size="6.7" text-anchor="start" textLength="14.4" lengthAdjust="spacingAndGlyphs" class="t">IRAS</text>
<text x="70.5" y="151.8" font-size="6.7" text-anchor="start" textLength="43.8" lengthAdjust="spacingAndGlyphs" class="t">22491−1808</text>
<text x="117.5" y="151.8" font-size="6.7" text-anchor="start" textLength="37.8" lengthAdjust="spacingAndGlyphs" class="t">(z=0.0776)</text>
<path d="M31.5 223.8H32.3V225.48H33.1V226.98H33.9V226.76H34.7V225.26H35.51V222.19H36.31V222.09H37.11V220.3H37.91V217.47H38.71V217.76H39.51V219.36H40.31V214.04H41.11V207.6H41.92V199.84H42.72V195.95H43.52V189.12H44.32V186.49H45.12V183.08H45.92V176H46.72V182H47.52V175H48.33V181H49.13V174.5H49.93V180H50.73V176H51.53V183H52.33V186.03H53.13V194.67H53.93V206.04H54.74V215.74H55.54V222.45H56.34V226.38H57.14V224.34H57.94V228.67H58.74V226.44H59.54V229.14H60.34V225.71H61.15V224.8H61.95V221H62.75V226.95H63.55V227.46H64.35V225.73H65.15V226.28H65.95V224.96H66.75V224.71H67.56V225.01H68.36V221.89H69.16V223.65H69.96V225.79H70.76V226H71.56V227.95H72.36V227.08H73.16V226.71H73.97V226.01H74.77V221.45H75.57V226.09H76.37V222.73H77.17V224.97H77.97V221.55H78.77V220.17H79.57V218.54H80.38V218.27H81.18V212.29H81.98V212.37H82.78V219.77H83.58V216.48H84.38V212.89H85.18V212.2H85.98V203H86.79V221.38H87.59V212.47H88.39V210.18H89.19V205.84H89.99V197.91H90.79V202.45H91.59V203.63H92.39V199.87H93.2V197.38H94V194.93H94.8V193.36H95.6V201.2H96.4V206.54H97.2V209.18H98V221.12H98.8V215.78H99.61V219.35H100.41V218.6H101.21V230.96H102.01V224.47H102.81V225.11H103.61V226.84H104.41V222.65H105.21V234.3H106.02V227.62H106.82V223.17H107.62V227.72H108.42V231.28H109.22V229.48H110.02V232.09H110.82V230.73H111.62V233.38H112.43V220H113.23V228.16H114.03V222.11H114.83V225.74H115.63V223.58H116.43V226.17H117.23V222.3H118.03V227.73H118.84V221H119.64V223.36H120.44V228.75H121.24V228.95H122.04V223.54H122.84V225.29H123.64V224.37H124.44V228.21H125.25V223.92H126.05V236.84H126.85V231.5H127.65V231.02H128.45V235.06H129.25V231.94H130.05V226.03H130.85V227.91H131.66V226.61H132.46V227.52H133.26V230.34H134.06V218.53H134.86V219.78H135.66V225.16H136.46V232H137.26V217.9H138.07V225.68H138.87V230.86H139.67V229.14H140.47V226.01H141.27V216H142.07V216H142.87V235.6H143.67V226.85H144.48V222.58H145.28V228.35H146.08V224.92H146.88V225.02H147.68V233.6H148.48V233.6H149.28V223.31H150.08V227.52H150.89V227.24H151.69V224.07H152.49V226.06H153.29V225.35H154.09V234.3H154.89V227.03H155.69V221H156.49V228.98H157.3V226.7H158.1V221.57H158.9V227.88H159.7V224.62H160.5" stroke="#000" stroke-width="1.1" fill="none" stroke-linejoin="miter"/>
<text x="49.6" y="161.6" font-size="5.4" text-anchor="middle" textLength="10.1" lengthAdjust="spacingAndGlyphs" class="l">HCN</text>
<text x="49.6" y="166.5" font-size="5.4" text-anchor="middle" textLength="16.4" lengthAdjust="spacing" class="l">J=3−2</text>
<path d="M49.6 166.7V173.2M48 171L49.6 173.2L51.2 171" stroke="#000" stroke-width="0.7" fill="none"/>
<text x="92.7" y="177.8" font-size="5.4" text-anchor="middle" class="l">HCO<tspan font-size='3.4' dy='-2.1'>+</tspan></text>
<text x="93.3" y="183" font-size="5.4" text-anchor="middle" textLength="17.7" lengthAdjust="spacing" class="l">J=3−2</text>
<path d="M93.6 183.2V189.8M92 187.6L93.6 189.8L95.2 187.6" stroke="#000" stroke-width="0.7" fill="none"/>
<text x="77.5" y="189.9" font-size="5.4" text-anchor="middle" textLength="10.1" lengthAdjust="spacingAndGlyphs" class="l">HCN</text>
<text x="77.9" y="195" font-size="5.4" text-anchor="middle" textLength="13.6" lengthAdjust="spacingAndGlyphs" class="l">v<tspan font-size='3.4' dy='1.2'>2</tspan><tspan dy='-1.2'>=1f</tspan></text>
<text x="69.5" y="201.1" font-size="5.4" text-anchor="start" textLength="17" lengthAdjust="spacing" class="l">J=3−2</text>
<path d="M83.6 202.7V207.5M82 205.3L83.6 207.5L85.2 205.3" stroke="#000" stroke-width="0.7" fill="none"/>
<text x="122" y="197.5" font-size="5.4" text-anchor="middle" class="l">HCO<tspan font-size='3.4' dy='-2.1'>+</tspan></text>
<text x="122" y="202.6" font-size="5.4" text-anchor="middle" textLength="13.6" lengthAdjust="spacingAndGlyphs" class="l">v<tspan font-size='3.4' dy='1.2'>2</tspan><tspan dy='-1.2'>=1f</tspan></text>
<text x="109" y="208.6" font-size="5.4" text-anchor="start" textLength="27.2" lengthAdjust="spacing" class="l">J=3−2 (?)</text>
<path d="M122 208.8V215M120.4 212.8L122 215L123.6 212.8" stroke="#000" stroke-width="0.7" fill="none"/>
<rect x="207.5" y="142.5" width="129" height="95.3" fill="none" stroke="#111" stroke-width="1"/>
<text x="233" y="247" font-size="7.9" text-anchor="middle">247</text>
<text x="261" y="247" font-size="7.9" text-anchor="middle">248</text>
<text x="289" y="247" font-size="7.9" text-anchor="middle">249</text>
<text x="317" y="247" font-size="7.9" text-anchor="middle">250</text>
<text x="203.6" y="220.6" font-size="7.9" text-anchor="middle" transform="rotate(-90 203.6 220.6)" dominant-baseline="auto">0</text>
<text x="203.6" y="196.3" font-size="7.9" text-anchor="middle" transform="rotate(-90 203.6 196.3)" dominant-baseline="auto">10</text>
<text x="203.6" y="172" font-size="7.9" text-anchor="middle" transform="rotate(-90 203.6 172)" dominant-baseline="auto">20</text>
<text x="203.6" y="147.7" font-size="7.9" text-anchor="middle" transform="rotate(-90 203.6 147.7)" dominant-baseline="auto">30</text>
<path d="M210.5 237.8v-1.6M210.5 142.5v1.6M216.5 237.8v-1.6M216.5 142.5v1.6M221.5 237.8v-1.6M221.5 142.5v1.6M227.5 237.8v-1.6M227.5 142.5v1.6M232.5 237.8v-3M232.5 142.5v3M238.5 237.8v-1.6M238.5 142.5v1.6M244.5 237.8v-1.6M244.5 142.5v1.6M249.5 237.8v-1.6M249.5 142.5v1.6M255.5 237.8v-1.6M255.5 142.5v1.6M260.5 237.8v-3M260.5 142.5v3M266.5 237.8v-1.6M266.5 142.5v1.6M272.5 237.8v-1.6M272.5 142.5v1.6M277.5 237.8v-1.6M277.5 142.5v1.6M283.5 237.8v-1.6M283.5 142.5v1.6M288.5 237.8v-3M288.5 142.5v3M294.5 237.8v-1.6M294.5 142.5v1.6M300.5 237.8v-1.6M300.5 142.5v1.6M305.5 237.8v-1.6M305.5 142.5v1.6M311.5 237.8v-1.6M311.5 142.5v1.6M316.5 237.8v-3M316.5 142.5v3M322.5 237.8v-1.6M322.5 142.5v1.6M328.5 237.8v-1.6M328.5 142.5v1.6M333.5 237.8v-1.6M333.5 142.5v1.6M207.5 235.5h1.6M336.5 235.5h-1.6M207.5 230.5h1.6M336.5 230.5h-1.6M207.5 225.5h1.6M336.5 225.5h-1.6M207.5 220.5h3M336.5 220.5h-3M207.5 215.5h1.6M336.5 215.5h-1.6M207.5 210.5h1.6M336.5 210.5h-1.6M207.5 206.5h1.6M336.5 206.5h-1.6M207.5 201.5h1.6M336.5 201.5h-1.6M207.5 196.5h3M336.5 196.5h-3M207.5 191.5h1.6M336.5 191.5h-1.6M207.5 186.5h1.6M336.5 186.5h-1.6M207.5 181.5h1.6M336.5 181.5h-1.6M207.5 176.5h1.6M336.5 176.5h-1.6M207.5 172.5h3M336.5 172.5h-3M207.5 167.5h1.6M336.5 167.5h-1.6M207.5 162.5h1.6M336.5 162.5h-1.6M207.5 157.5h1.6M336.5 157.5h-1.6M207.5 152.5h1.6M336.5 152.5h-1.6M207.5 147.5h3M336.5 147.5h-3" stroke="#111" stroke-width="1" fill="none"/>
<path d="M207.5 220.5H336.5" stroke="#999" stroke-width="1" stroke-dasharray="1 1.5" fill="none"/>
<text x="228.6" y="255.5" font-size="6.9" text-anchor="start" textLength="29.7" lengthAdjust="spacingAndGlyphs">Observed</text>
<text x="261.7" y="255.5" font-size="6.9" text-anchor="start" textLength="31.9" lengthAdjust="spacingAndGlyphs">frequency</text>
<text x="297.3" y="255.5" font-size="6.9" text-anchor="start" textLength="18.2" lengthAdjust="spacingAndGlyphs">(GHz)</text>
<text x="189.6" y="190.7" font-size="7.3" text-anchor="middle" textLength="34.6" lengthAdjust="spacingAndGlyphs" transform="rotate(-90 189.6 190.7)">Flux (mJy)</text>
<text x="211" y="149.7" font-size="6.7" text-anchor="start" textLength="16.9" lengthAdjust="spacingAndGlyphs" class="t">(ae')</text>
<text x="230.5" y="149.7" font-size="6.7" text-anchor="start" textLength="13.7" lengthAdjust="spacingAndGlyphs" class="t">IRAS</text>
<text x="247.3" y="149.7" font-size="6.7" text-anchor="start" textLength="43.5" lengthAdjust="spacingAndGlyphs" class="t">22491−1808</text>
<text x="294.5" y="149.7" font-size="6.7" text-anchor="start" textLength="36.8" lengthAdjust="spacingAndGlyphs" class="t">(z=0.0776)</text>
<text x="290.5" y="157.4" font-size="6.7" text-anchor="start" textLength="10.4" lengthAdjust="spacingAndGlyphs" class="t">(2"</text>
<text x="303.6" y="157.4" font-size="6.7" text-anchor="start" textLength="28.8" lengthAdjust="spacingAndGlyphs" class="t">aperture)</text>
<path d="M207.5 221.28H208.3V225.17H209.1V226.1H209.9V226.1H210.7V217.89H211.51V217.46H212.31V215.51H213.11V215.22H213.91V212.63H214.71V210.49H215.51V209.31H216.31V207.63H217.11V201.44H217.92V198.86H218.72V195.2H219.4V193H220.5V188H221.1V184.6H221.7V175H222.6V172H223.4V187H224V168.3H226.3V191H226.9V182H227.6V188H228.2V183H228.8V191H229.4V196H230.3V201H231.1V207H231.9V214H232.7V217.35H233.14V216.39H233.94V222.55H234.74V218.75H235.54V221.54H236.34V222.9H237.15V213.56H237.95V226.32H238.75V219.84H239.55V214.3H240.35V218.51H241.15V224.88H241.95V225.46H242.75V218.52H243.56V221.62H244.36V222.08H245.16V225.21H245.96V220.36H246.76V224.79H247.56V217.09H248.36V217.68H249.16V223.22H249.97V222.91H250.77V219.17H251.57V220.41H252.37V218.46H253.17V219.35H253.97V219.56H254.77V216.59H255.57V216.51H256.38V211.8H257.18V210.51H257.98V204.63H258.78V212.68H259.58V206.7H260.38V212.28H261.18V204.46H261.98V207.97H262.79V207.02H263.59V202.48H264.39V209.46H265.19V204.41H265.99V191.45H266.79V196.71H267.59V200.63H268.39V191.64H269.2V198.37H270V204.64H270.8V211.05H271.6V204.25H272.4V207.96H273.2V215.85H274V221.57H274.8V211.58H275.61V214.75H276.41V213.21H277.21V224.88H278.01V216.69H278.81V222.92H279.61V223.75H280.41V226.84H281.21V223.5H282.02V223.32H282.82V227.51H283.62V224.02H284.42V215.13H285.22V218.84H286.02V226.22H286.82V222.3H287.62V219.78H288.43V222.84H289.23V237.3H290.03V221.33H290.83V224.06H291.63V223.93H292.43V220.2H293.23V227.7H294.03V225.98H294.84V223.63H295.64V214.65H296.44V228.05H297.24V225.51H298.04V221.16H298.84V207.78H299.64V221.29H300.44V215.36H301.25V220.41H302.05V218.97H302.85V217.33H303.65V226.78H304.45V222.17H305.25V227.92H306.05V216.63H306.85V220.6H307.66V228.58H308.46V223.26H309.26V217.86H310.06V217.01H310.86V218.54H311.66V233H312.46V225.11H313.26V222.33H314.07V225.45H314.87V225.89H315.67V222.19H316.47V228.2H317.27V225.37H318.07V220.63H318.87V220.73H319.67V221.49H320.48V206H321.28V214.69H322.08V221.77H322.88V218.94H323.68V224.59H324.48V218.51H325.28V222.08H326.08V222.59H326.89V219.16H327.69V222.56H328.49V217.86H329.29V219.37H330.09V225.68H330.89V223.56H331.69V221.55H332.49V233H333.3V225.14H334.1V231.81H334.9V210.38H335.7V226.96H336.5" stroke="#000" stroke-width="1.1" fill="none" stroke-linejoin="miter"/>
<text x="226" y="156.6" font-size="5.4" text-anchor="middle" textLength="10.1" lengthAdjust="spacingAndGlyphs" class="l">HCN</text>
<text x="226" y="160.8" font-size="5.4" text-anchor="middle" textLength="17.4" lengthAdjust="spacing" class="l">J=3−2</text>
<path d="M225.7 160.9V166.9M224.1 164.7L225.7 166.9L227.3 164.7" stroke="#000" stroke-width="0.7" fill="none"/>
<text x="269.1" y="176.1" font-size="5.4" text-anchor="middle" class="l">HCO<tspan font-size='3.4' dy='-2.1'>+</tspan></text>
<text x="269.1" y="181.4" font-size="5.4" text-anchor="middle" textLength="16.5" lengthAdjust="spacing" class="l">J=3−2</text>
<path d="M269.5 181.5V186.4M267.9 184.2L269.5 186.4L271.1 184.2" stroke="#000" stroke-width="0.7" fill="none"/>
<text x="254.5" y="187.3" font-size="5.4" text-anchor="middle" textLength="10.1" lengthAdjust="spacingAndGlyphs" class="l">HCN</text>
<text x="253.5" y="191.8" font-size="5.4" text-anchor="middle" textLength="13.6" lengthAdjust="spacingAndGlyphs" class="l">v<tspan font-size='3.4' dy='1.2'>2</tspan><tspan dy='-1.2'>=1f</tspan></text>
<text x="238" y="197.9" font-size="5.4" text-anchor="start" textLength="27.2" lengthAdjust="spacing" class="l">J=3−2 (?)</text>
<path d="M259.7 198V203M258.1 200.8L259.7 203L261.3 200.8" stroke="#000" stroke-width="0.7" fill="none"/>
<text x="297.3" y="192.6" font-size="5.4" text-anchor="middle" class="l">HCO<tspan font-size='3.4' dy='-2.1'>+</tspan></text>
<text x="297.3" y="196.7" font-size="5.4" text-anchor="middle" textLength="13.6" lengthAdjust="spacingAndGlyphs" class="l">v<tspan font-size='3.4' dy='1.2'>2</tspan><tspan dy='-1.2'>=1f</tspan></text>
<text x="285.6" y="202.8" font-size="5.4" text-anchor="start" textLength="25.3" lengthAdjust="spacing" class="l">J=3−2 (?)</text>
<path d="M298.3 203V207.8M296.7 205.6L298.3 207.8L299.9 205.6" stroke="#000" stroke-width="0.7" fill="none"/>
</svg>
</body></html>
